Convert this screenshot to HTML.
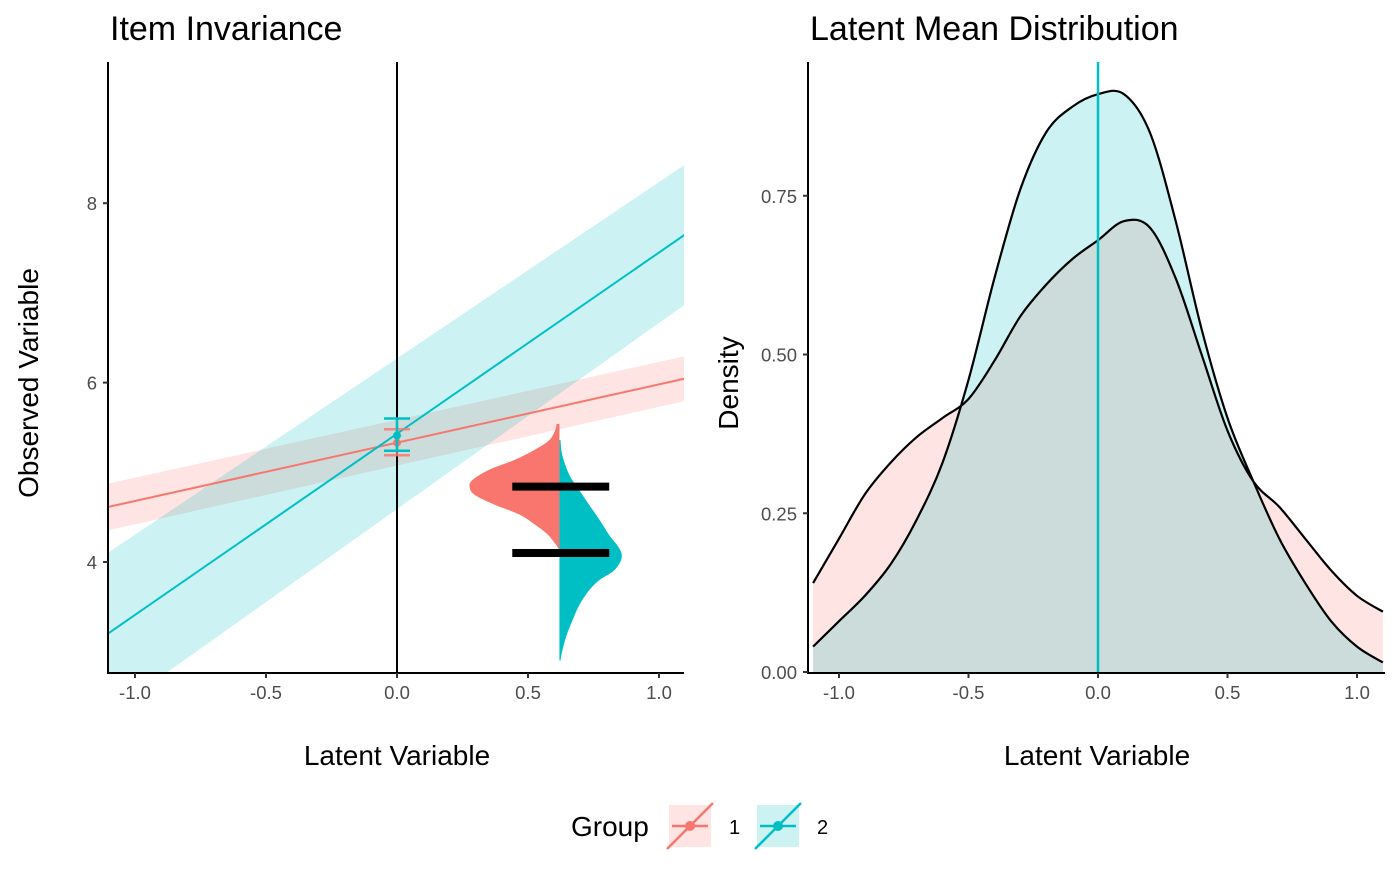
<!DOCTYPE html>
<html><head><meta charset="utf-8"><style>
body{margin:0;background:#fff;font-family:"Liberation Sans",sans-serif}
svg text{font-family:"Liberation Sans",sans-serif}
</style></head><body>
<svg id="c" width="1400" height="865" xmlns="http://www.w3.org/2000/svg"></svg>
<script>
// ---- data ----
const lineGroups=["1","2"];
const lineIntercepts=[5.33,5.43];
const lineSlopes=[0.65,2.02];
const ribbonLeftHalf=[0.26,0.9];
const ribbonRightHalf=[0.25,0.78];
const pointMeans=[5.33,5.41];
const pointLo=[5.19,5.24];
const pointHi=[5.48,5.6];
const violinRedY=[5.54,5.48,5.36,5.25,5.14,5.03,4.92,4.84,4.75,4.64,4.53,4.42,4.31,4.2,4.13];
const violinRedW=[0.011,0.015,0.038,0.095,0.17,0.267,0.33,0.343,0.324,0.248,0.153,0.095,0.046,0.015,0];
const violinBlueY=[5.36,5.19,4.97,4.8,4.63,4.47,4.3,4.15,4.04,3.91,3.8,3.69,3.52,3.35,3.18,3.01,2.9];
const violinBlueW=[0.004,0.011,0.038,0.076,0.115,0.153,0.19,0.229,0.237,0.21,0.153,0.115,0.076,0.05,0.027,0.011,0.004];
const violinX=0.62;
const hbarY=[4.84,4.1];
const densX=[-1.1,-1.0,-0.9,-0.8,-0.7,-0.6,-0.5,-0.4,-0.3,-0.2,-0.1,0,0.1,0.2,0.3,0.4,0.5,0.6,0.7,0.8,0.9,1.0,1.1];
const densRed=[0.14,0.21,0.28,0.33,0.37,0.40,0.43,0.49,0.56,0.61,0.65,0.68,0.71,0.70,0.62,0.50,0.38,0.30,0.26,0.21,0.16,0.12,0.095];
const densBlue=[0.04,0.08,0.12,0.17,0.24,0.33,0.46,0.62,0.76,0.85,0.89,0.91,0.91,0.85,0.71,0.54,0.40,0.30,0.21,0.14,0.08,0.04,0.015];
const xTicks=[-1.0,-0.5,0,0.5,1.0];
const xTickLabels=["-1.0","-0.5","0.0","0.5","1.0"];
const yTicksL=[4,6,8];
const yTicksR=[0,0.25,0.5,0.75];
const yTickLabelsR=["0.00","0.25","0.50","0.75"];
const RED="#F8766D",BLUE="#00BFC4";
// ---- scales ----
const L={x0:108,x1:684,y0:62,y1:673};
const xL=v=>397+v*262, yL=v=>562-(v-4)*89.7;
const R={x0:808,x1:1385,y0:62,y1:673};
const xR=v=>1098+v*259, yR=v=>672-v*635;
const svg=document.getElementById('c');const NS="http://www.w3.org/2000/svg";
function el(t,a,p){const e=document.createElementNS(NS,t);for(const k in a)e.setAttribute(k,a[k]);(p||svg).appendChild(e);return e;}
function txt(s,a,p){const e=el('text',a,p);e.textContent=s;return e;}
function smooth(pts){let d="M"+pts[0][0]+","+pts[0][1];for(let i=0;i<pts.length-1;i++){const p0=pts[i-1]||pts[i],p1=pts[i],p2=pts[i+1],p3=pts[i+2]||p2;d+=`C${p1[0]+(p2[0]-p0[0])/6},${p1[1]+(p2[1]-p0[1])/6} ${p2[0]-(p3[0]-p1[0])/6},${p2[1]-(p3[1]-p1[1])/6} ${p2[0]},${p2[1]}`;}return d;}
const defs=el('defs',{});
const cp=el('clipPath',{id:'cl'},defs);el('rect',{x:L.x0,y:L.y0,width:L.x1-L.x0,height:L.y1-L.y0},cp);
const cp2=el('clipPath',{id:'cr'},defs);el('rect',{x:R.x0,y:R.y0,width:R.x1-R.x0,height:R.y1-R.y0},cp2);
// ---- left panel ----
const gl=el('g',{'clip-path':'url(#cl)'});

const cols=[RED,BLUE];
lineGroups.forEach((g,i)=>{
  const a=-1.1,b=1.1;
  const ya=lineIntercepts[i]+lineSlopes[i]*a,yb=lineIntercepts[i]+lineSlopes[i]*b;
  const r=el('path',{d:`M${xL(a)},${yL(ya+ribbonLeftHalf[i])}L${xL(b)},${yL(yb+ribbonRightHalf[i])}L${xL(b)},${yL(yb-ribbonRightHalf[i])}L${xL(a)},${yL(ya-ribbonLeftHalf[i])}Z`,fill:cols[i],'fill-opacity':0.2},gl);
  
});
lineGroups.forEach((g,i)=>{
  const a=-1.1,b=1.1;
  const l=el('line',{x1:xL(a),y1:yL(lineIntercepts[i]+lineSlopes[i]*a),x2:xL(b),y2:yL(lineIntercepts[i]+lineSlopes[i]*b),stroke:cols[i],'stroke-width':2},gl);
  
});
function violin(ys,ws,side,col,name){
  const pts=ys.map((y,i)=>[xL(violinX+side*ws[i]),yL(y)]);
  let d=smooth(pts);d+=`L${xL(violinX)},${yL(ys[ys.length-1])}L${xL(violinX)},${yL(ys[0])}Z`;
  const p=el('path',{d,fill:col},gl);
}
violin(violinRedY,violinRedW,-1,RED,'violin-group-1');
violin(violinBlueY,violinBlueW,1,BLUE,'violin-group-2');
hbarY.forEach((v,i)=>{const b=el('line',{x1:xL(0.44),x2:xL(0.81),y1:yL(v),y2:yL(v),stroke:'#000','stroke-width':8},gl);});
el('line',{x1:xL(0),x2:xL(0),y1:L.y0,y2:L.y1,stroke:'#000','stroke-width':2},gl);
pointMeans.forEach((m,i)=>{
  const g=el('g',{stroke:cols[i],'stroke-width':2.5,'stroke-opacity':i==0?0.8:1},gl);
  
  el('line',{x1:xL(0),x2:xL(0),y1:yL(pointLo[i]),y2:yL(pointHi[i])},g);
  el('line',{x1:xL(0)-13,x2:xL(0)+13,y1:yL(pointLo[i]),y2:yL(pointLo[i])},g);
  el('line',{x1:xL(0)-13,x2:xL(0)+13,y1:yL(pointHi[i]),y2:yL(pointHi[i])},g);
  el('circle',{cx:xL(0),cy:yL(m),r:4,fill:cols[i],stroke:'none'},g);
});
el('line',{x1:L.x0,x2:L.x0,y1:L.y0,y2:L.y1+1,stroke:'#000','stroke-width':2});
el('line',{x1:L.x0-1,x2:L.x1,y1:L.y1,y2:L.y1,stroke:'#000','stroke-width':2});
xTicks.forEach((v,i)=>{el('line',{x1:xL(v),x2:xL(v),y1:L.y1,y2:L.y1+5,stroke:'#333','stroke-width':2});txt(xTickLabels[i],{x:xL(v),y:L.y1+26,'text-anchor':'middle','font-size':18.5,fill:'#4d4d4d'});});
yTicksL.forEach(v=>{el('line',{x1:L.x0-5,x2:L.x0,y1:yL(v),y2:yL(v),stroke:'#333','stroke-width':2});txt(String(v),{x:L.x0-11,y:yL(v)+7,'text-anchor':'end','font-size':18.5,fill:'#4d4d4d'});});
txt('Item Invariance',{x:110,y:40,'font-size':34,fill:'#000'});
txt('Latent Variable',{x:397,y:765,'text-anchor':'middle','font-size':28});
txt('Observed Variable',{x:0,y:0,transform:'translate(38,383) rotate(-90)','text-anchor':'middle','font-size':28});
// ---- right panel ----
const gr=el('g',{'clip-path':'url(#cr)'});

[[densRed,RED,'1'],[densBlue,BLUE,'2']].forEach(([ds,col,g])=>{
  const pts=densX.map((x,i)=>[xR(x),yR(ds[i])]);
  const line=smooth(pts);
  const a=el('path',{d:line+`L${xR(densX[densX.length-1])},${yR(0)}L${xR(densX[0])},${yR(0)}Z`,fill:col,'fill-opacity':0.2},gr);
  
});
[densRed,densBlue].forEach((ds,k)=>{
  const pts=densX.map((x,i)=>[xR(x),yR(ds[i])]);
  const p=el('path',{d:smooth(pts),fill:'none',stroke:'#000','stroke-width':2.2},gr);
  
});
el('line',{x1:xR(0),x2:xR(0),y1:R.y0,y2:R.y1,stroke:BLUE,'stroke-width':2.5},gr);
el('line',{x1:R.x0,x2:R.x0,y1:R.y0,y2:R.y1+1,stroke:'#000','stroke-width':2});
el('line',{x1:R.x0-1,x2:R.x1,y1:R.y1,y2:R.y1,stroke:'#000','stroke-width':2});
xTicks.forEach((v,i)=>{el('line',{x1:xR(v),x2:xR(v),y1:R.y1,y2:R.y1+5,stroke:'#333','stroke-width':2});txt(xTickLabels[i],{x:xR(v),y:R.y1+26,'text-anchor':'middle','font-size':18.5,fill:'#4d4d4d'});});
yTicksR.forEach((v,i)=>{el('line',{x1:R.x0-5,x2:R.x0,y1:yR(v),y2:yR(v),stroke:'#333','stroke-width':2});txt(yTickLabelsR[i],{x:R.x0-11,y:yR(v)+7,'text-anchor':'end','font-size':18.5,fill:'#4d4d4d'});});
txt('Latent Mean Distribution',{x:810,y:40,'font-size':34});
txt('Latent Variable',{x:1097,y:765,'text-anchor':'middle','font-size':28});
txt('Density',{x:0,y:0,transform:'translate(738,383) rotate(-90)','text-anchor':'middle','font-size':28});
// ---- legend ----
const lg=el('g',{});
txt('Group',{x:571,y:836,'font-size':28},lg);
[[RED,669,'1'],[BLUE,757,'2']].forEach(([c,x,g])=>{
  const e=el('g',{},lg);
  el('rect',{x:x,y:805,width:42,height:42,fill:c,'fill-opacity':0.2},e);
  el('line',{x1:x-2,y1:849,x2:x+44,y2:803,stroke:c,'stroke-width':2.5},e);
  el('line',{x1:x+3,y1:826,x2:x+39,y2:826,stroke:c,'stroke-width':2.5},e);
  el('circle',{cx:x+21,cy:826,r:5,fill:c},e);
  txt(g,{x:x+60,y:834,'font-size':20},e);
});
</script>
</body></html>
